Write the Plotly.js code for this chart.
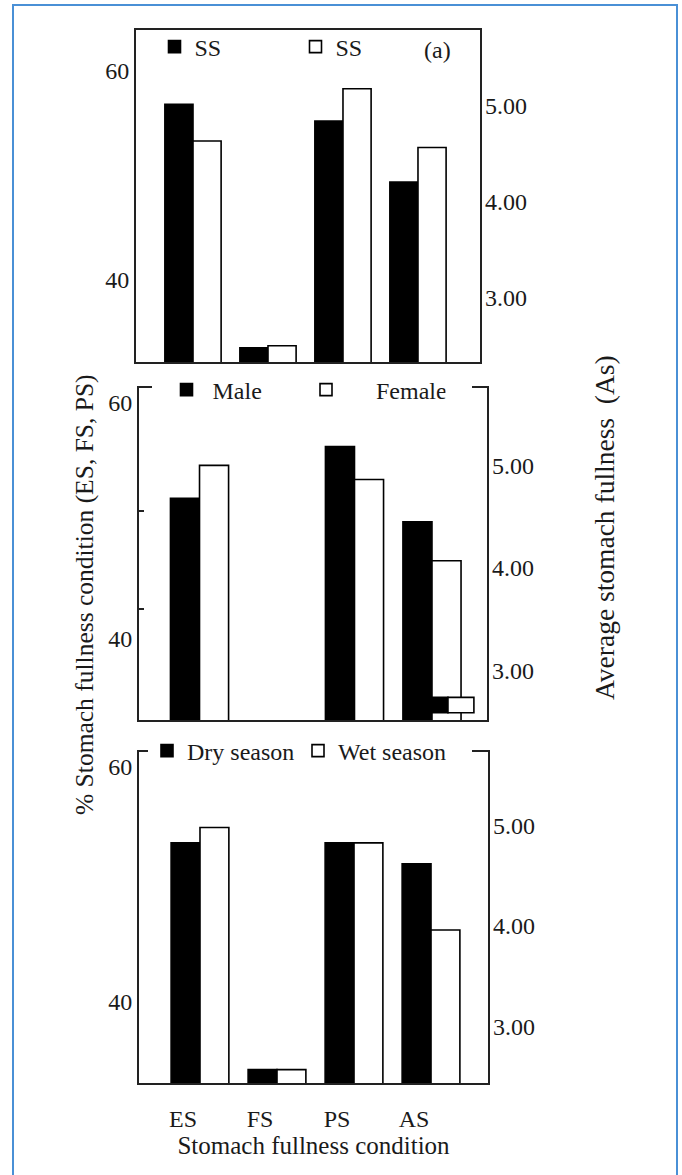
<!DOCTYPE html>
<html>
<head>
<meta charset="utf-8">
<script src="https://cdn.plot.ly/plotly-3.0.1.min.js"></script>
<style>
  html, body { margin: 0; padding: 0; background: #ffffff; }
  #wrap { position: relative; width: 682px; height: 1175px; overflow: hidden; }
  #chart { position: absolute; left: 0; top: 0; width: 682px; height: 1175px; }
  #frame { position: absolute; left: 12px; top: 4px; width: 666px; height: 1200px;
           box-sizing: border-box; border: 2px solid #4a90d6; border-bottom: none;
           pointer-events: none; }
</style>
</head>
<body>
<div id="wrap"><div id="chart"></div><div id="frame"></div></div>
<script>
// ---------- data ----------
var categories = ['ES', 'FS', 'PS', 'AS'];
var leftCats = ['ES', 'FS', 'PS'];   // % stomach fullness condition (left axis)
var rightCats = ['AS'];              // average stomach fullness (right axis)

// Panel (a): SS / SS
var ssBlackPct = [56.8, 33.5, 55.2];
var ssBlackAs = [4.20];
var ssWhitePct = [53.3, 33.7, 58.3];
var ssWhiteAs = [4.56];

// Panel (b): Male / Female
var malePct = [51.9, null, 56.3];
var maleAs = [4.45];
var femalePct = [54.7, null, 53.5];
var femaleAs = [4.07];
// FS bars of panel (b), drawn floating inside the AS group in the original
var sexFsBase = [33.7];
var maleFs = [1.3];
var femaleFs = [1.3];

// Panel (c): Dry season / Wet season
var dryPct = [53.5, 34.2, 53.5];
var dryAs = [4.62];
var wetPct = [54.8, 34.2, 53.5];
var wetAs = [3.96];

var leftTickVals = [40, 60];
var rightTickVals = [3, 4, 5];

// ---------- styling ----------
var FONT = 'Liberation Serif, Times New Roman, serif';
var TXT = '#1a1a1a';
var LINE = '#222222';
var W = 682, H = 1175;
function px(x) { return x / W; }
function py(y) { return 1 - y / H; }

function barTrace(x, y, xa, ya, fill, name, legend, show) {
  return {
    type: 'bar', x: x, y: y, xaxis: xa, yaxis: ya, name: name,
    legend: legend, showlegend: show,
    marker: { color: fill, line: { color: '#000000', width: 1.6 } },
    hoverinfo: 'x+y'
  };
}

var data = [
  barTrace(leftCats, ssBlackPct, 'x', 'y', '#000000', 'SS', 'legend', true),
  barTrace(leftCats, ssWhitePct, 'x', 'y', '#ffffff', 'SS', 'legend', true),
  barTrace(rightCats, ssBlackAs, 'x', 'y2', '#000000', 'SS', 'legend', false),
  barTrace(rightCats, ssWhiteAs, 'x', 'y2', '#ffffff', 'SS', 'legend', false),

  barTrace(leftCats, malePct, 'x2', 'y3', '#000000', '\u00a0Male', 'legend2', true),
  barTrace(leftCats, femalePct, 'x2', 'y3', '#ffffff', '\u00a0\u00a0\u00a0\u00a0\u00a0Female', 'legend2', true),
  barTrace(rightCats, maleAs, 'x2', 'y4', '#000000', 'Male', 'legend2', false),
  barTrace(rightCats, femaleAs, 'x2', 'y4', '#ffffff', 'Female', 'legend2', false),

  barTrace(leftCats, dryPct, 'x3', 'y5', '#000000', 'Dry season', 'legend3', true),
  barTrace(leftCats, wetPct, 'x3', 'y5', '#ffffff', 'Wet season', 'legend3', true),
  barTrace(rightCats, dryAs, 'x3', 'y6', '#000000', 'Dry season', 'legend3', false),
  barTrace(rightCats, wetAs, 'x3', 'y6', '#ffffff', 'Wet season', 'legend3', false)
];

// floating FS pair of panel (b)
var fm = barTrace(rightCats, maleFs, 'x2', 'y8', '#000000', 'Male FS', 'legend2', false);
fm.base = sexFsBase; fm.width = 0.206; fm.offset = 0;
var ff = barTrace(rightCats, femaleFs, 'x2', 'y8', '#ffffff', 'Female FS', 'legend2', false);
ff.base = sexFsBase; ff.width = 0.335; ff.offset = 0.206;
data.push(fm, ff);

function xAxis(domain, range, anchor, showLabels) {
  return {
    domain: domain, range: range, anchor: anchor, type: 'category',
    categoryorder: 'array', categoryarray: categories,
    showline: true, mirror: true, linecolor: LINE, linewidth: 2,
    ticks: '', showgrid: false, zeroline: false, showticklabels: showLabels,
    tickfont: { family: FONT, size: 24, color: TXT }, fixedrange: true
  };
}
function leftAxis(domain, range, anchor) {
  return {
    domain: domain, range: range, anchor: anchor,
    showline: true, mirror: true, linecolor: LINE, linewidth: 2,
    tickmode: 'array', tickvals: leftTickVals, ticks: '',
    showgrid: false, zeroline: false,
    tickfont: { family: FONT, size: 24, color: TXT }, fixedrange: true
  };
}
function rightAxis(range, overlay, anchor) {
  return {
    range: range, overlaying: overlay, anchor: anchor, side: 'right',
    showline: false, tickmode: 'array', tickvals: rightTickVals, tickformat: '.2f',
    ticks: '', ticklabelstandoff: 4, showgrid: false, zeroline: false,
    tickfont: { family: FONT, size: 24, color: TXT }, fixedrange: true
  };
}
function markAxis(range, overlay, anchor, vals) {
  return {
    range: range, overlaying: overlay, anchor: anchor, side: 'left',
    showline: false, tickmode: 'array', tickvals: vals, ticks: 'inside',
    ticklen: 5, tickwidth: 1.5, tickcolor: LINE,
    showticklabels: false, showgrid: false, zeroline: false, fixedrange: true
  };
}

var p1x = [px(136), px(480)], p1y = [py(362), py(30)];
var p2x = [px(139), px(487)], p2y = [py(720), py(388)];
var p3x = [px(139), px(488)], p3y = [py(1083), py(752)];

var y1r = [32.15, 63.92], y2r = [2.326, 5.784];
var y3r = [33.08, 61.27], y4r = [2.517, 5.756];
var y5r = [33.06, 61.23], y6r = [2.434, 5.736];

function legendCfg(xp, yp, ew) {
  return {
    orientation: 'h', x: px(xp), y: py(yp), xanchor: 'left', yanchor: 'middle',
    xref: 'paper', yref: 'paper', bgcolor: 'rgba(0,0,0,0)', borderwidth: 0,
    entrywidth: ew, entrywidthmode: 'pixels', traceorder: 'normal',
    font: { family: FONT, size: 24, color: TXT }
  };
}

var x3 = xAxis(p3x, [-0.792, 3.74], 'y5', true);
x3.ticklabelshift = -17;
x3.ticklabelstandoff = 13;
x3.title = { text: '\u00a0\u00a0\u00a0\u00a0Stomach fullness condition',
             font: { family: FONT, size: 25, color: TXT }, standoff: 2 };

var layout = {
  width: W, height: H,
  margin: { l: 0, r: 0, t: 0, b: 0, pad: 0 },
  paper_bgcolor: '#ffffff', plot_bgcolor: 'rgba(0,0,0,0)',
  barmode: 'group', bargap: 0.25, bargroupgap: 0,
  font: { family: FONT, size: 24, color: TXT },
  xaxis: xAxis(p1x, [-0.76, 3.827], 'y', false),
  xaxis2: xAxis(p2x, [-0.781, 3.71], 'y3', false),
  xaxis3: x3,
  yaxis: leftAxis(p1y, y1r, 'x'),
  yaxis2: rightAxis(y2r, 'y', 'x'),
  yaxis3: leftAxis(p2y, y3r, 'x2'),
  yaxis4: rightAxis(y4r, 'y3', 'x2'),
  yaxis5: leftAxis(p3y, y5r, 'x3'),
  yaxis6: rightAxis(y6r, 'y5', 'x3'),
  yaxis7: markAxis(y1r, 'y', 'x', [61.82, 52.15, 42.87]),
  yaxis8: markAxis(y3r, 'y3', 'x2', [50.83, 42.5]),
  yaxis9: markAxis(y5r, 'y5', 'x3', [50.94, 42.51]),
  legend: legendCfg(154.5, 47, 96),
  legend2: legendCfg(166.5, 390, 94.5),
  legend3: legendCfg(147, 751, 106),
  shapes: [
    { type: 'rect', xref: 'paper', yref: 'paper', layer: 'above',
      x0: px(152), x1: px(472), y0: py(393), y1: py(383),
      fillcolor: '#ffffff', line: { width: 0 } },
    { type: 'rect', xref: 'paper', yref: 'paper', layer: 'above',
      x0: px(148), x1: px(472), y0: py(757), y1: py(747),
      fillcolor: '#ffffff', line: { width: 0 } }
  ],
  annotations: [
    { text: '(a)', xref: 'paper', yref: 'paper', x: px(437), y: py(50),
      xanchor: 'center', yanchor: 'middle', showarrow: false,
      font: { family: FONT, size: 24, color: TXT } },
    { text: '% Stomach fullness condition (ES, FS, PS)', xref: 'paper', yref: 'paper',
      x: px(84), y: py(595), xanchor: 'center', yanchor: 'middle', textangle: -90,
      showarrow: false, font: { family: FONT, size: 25.5, color: TXT } },
    { text: 'Average stomach fullness\u00a0 (As)', xref: 'paper', yref: 'paper',
      x: px(604), y: py(528), xanchor: 'center', yanchor: 'middle', textangle: -90,
      showarrow: false, font: { family: FONT, size: 27.5, color: TXT } }
  ]
};

Plotly.newPlot('chart', data, layout, { displayModeBar: false, staticPlot: true });
</script>
</body>
</html>
